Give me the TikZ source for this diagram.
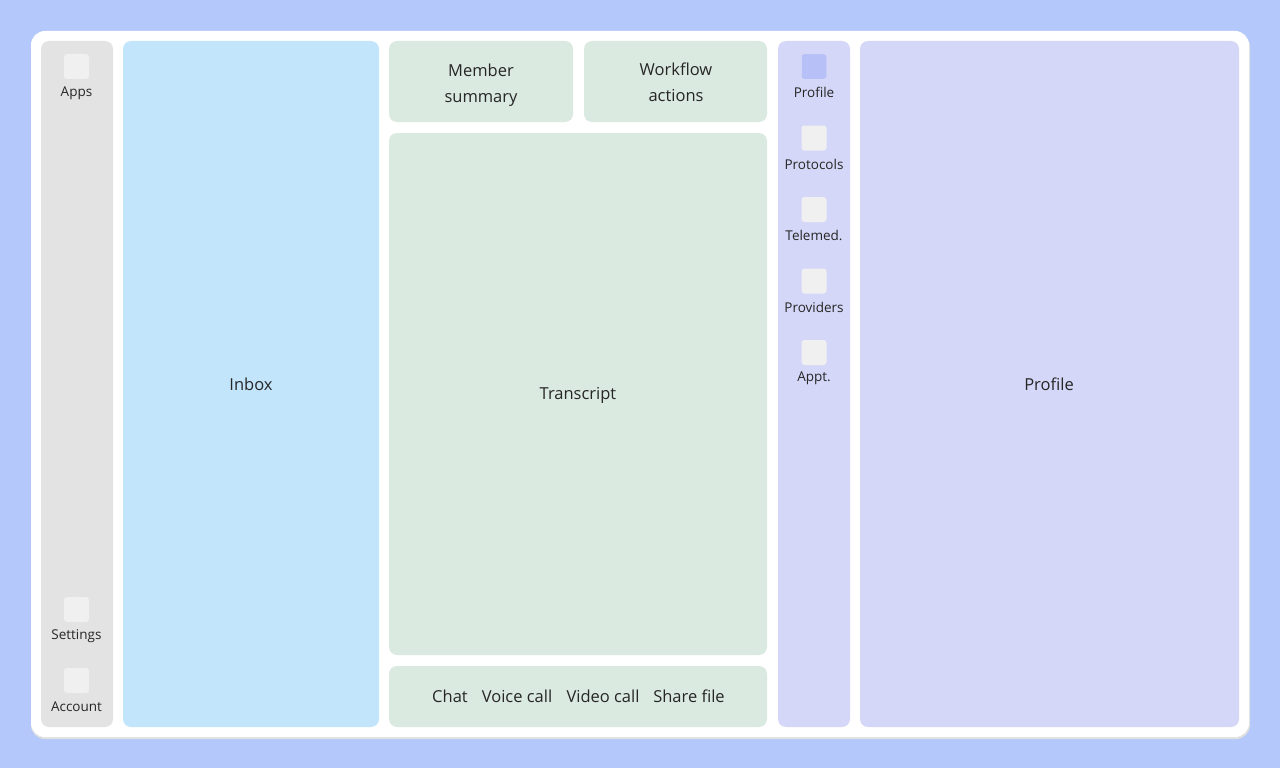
\documentclass[tikz,border=0pt]{standalone}
\usepackage{fontspec}
\setmainfont{Open Sans}
\definecolor{bgblue}{RGB}{180,200,251}
\definecolor{railgray}{RGB}{227,227,227}
\definecolor{iconwhite}{RGB}{240,240,240}
\definecolor{inboxblue}{RGB}{194,229,252}
\definecolor{chatgreen}{RGB}{219,234,224}
\definecolor{lavender}{RGB}{213,215,248}
\definecolor{iconactive}{RGB}{184,192,248}
\tikzset{
  panel/.style={rounded corners=8pt, inner sep=0pt},
  icon/.style={fill=iconwhite, rounded corners=3pt, minimum size=25pt, inner sep=0pt},
  small/.style={font=\fontsize{13.5}{15}\selectfont, text=black!85},
  big/.style={font=\fontsize{16.5}{26}\selectfont, text=black!85, align=center}
}
\begin{document}
\begin{tikzpicture}[x=1pt,y=-1pt]
    \useasboundingbox (0,0) rectangle (1280,768);
    \fill[bgblue] (0,0) rectangle (1280,768);
    % card
    \fill[black!12, rounded corners=14pt] (31,33) rectangle (1250,739);
    \fill[white, rounded corners=14pt] (31,31) rectangle (1249,737);
    % panels
    \fill[railgray, panel] (41,41) rectangle (113,727);
    \fill[inboxblue, panel] (123,41) rectangle (379,727);
    \fill[chatgreen, panel] (389,41) rectangle (573,122);
    \fill[chatgreen, panel] (584,41) rectangle (767,122);
    \fill[chatgreen, panel] (389,133) rectangle (767,655);
    \fill[chatgreen, panel] (389,666) rectangle (767,727);
    \fill[lavender, panel] (778,41) rectangle (850,727);
    \fill[lavender, panel] (860,41) rectangle (1239,727);
    % left rail
    \node[icon] (apps) at (76.5,66.5) {};
    \node[small] (appsl) at (76.5,93) {Apps};
    \node[icon] (settings) at (76.5,609.5) {};
    \node[small] (settingsl) at (76.5,636) {Settings};
    \node[icon] (account) at (76.5,680.5) {};
    \node[small] (accountl) at (76.5,707) {Account};
    % right rail
    \foreach \y/\t [count=\i] in {66.5/Profile, 138/Protocols, 209.5/Telemed., 281/Providers, 352.5/Appt.} {
      \node[icon] (r\i) at (814,\y) {};
      \node[small] (r\i l) at (814,\y+26) {\t};
    }
    \fill[iconactive, rounded corners=3pt] (801.5,54) rectangle (826.5,79);
    % labels
    \node[big] (inbox) at (251,384) {Inbox};
    \node[big] (member) at (481,85) {Member\\summary};
    \node[big] (workflow) at (676,82.5) {Workflow\\actions};
    \node[big] (transcript) at (578,395) {Transcript};
    \node[big] (chat) at (450,696) {Chat};
    \node[big] (voice) at (517,696) {Voice call};
    \node[big] (video) at (603,696) {Video call};
    \node[big] (share) at (689,696) {Share file};
    \node[big] (profile) at (1049,384) {Profile};
\end{tikzpicture}
\end{document}
